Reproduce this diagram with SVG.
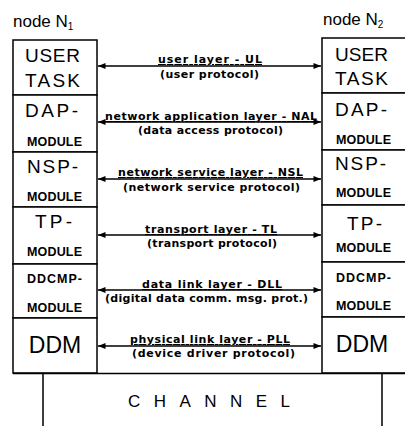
<svg xmlns="http://www.w3.org/2000/svg" width="405" height="426" viewBox="0 0 405 426">
<style>
.bx{fill:#fff;stroke:#000;stroke-width:1.5}
.big{font-family:"Liberation Sans",Arial,sans-serif;font-size:19px;fill:#000}
.ddm{font-family:"Liberation Sans",Arial,sans-serif;font-size:23px;fill:#000;text-anchor:middle}
.sm{font-family:"Liberation Sans",Arial,sans-serif;font-size:12.5px;font-weight:bold;fill:#000}
.lbl{font-family:"DejaVu Sans",Verdana,sans-serif;font-size:11px;font-weight:bold;fill:#000}
.ttl{font-family:"Liberation Sans",Arial,sans-serif;font-size:17px;fill:#000}
.ch{font-family:"Liberation Sans",Arial,sans-serif;font-size:17px;fill:#000}
.ln{stroke:#000;stroke-width:1.5;fill:none}
.ar{stroke:#000;stroke-width:1.3;fill:none;marker-start:url(#ah);marker-end:url(#ah)}
</style>
<defs>
<marker id="ah" viewBox="0 0 10 8" refX="10" refY="4" markerWidth="8" markerHeight="6" markerUnits="userSpaceOnUse" orient="auto-start-reverse">
<path d="M0,0 L10,4 L0,8 Z" fill="#000"/>
</marker>
</defs>
<rect width="405" height="426" fill="#fff"/>

<g id="title1"><text class="ttl" x="13" y="27">node N<tspan font-size="10" dy="3">1</tspan></text></g>
<g id="title2"><text class="ttl" x="323" y="25">node N<tspan font-size="10" dy="3">2</tspan></text></g>

<g id="n1-user"><rect class="bx" x="13" y="40" width="84" height="55"/>
<text class="big" x="25" y="62" textLength="55">USER</text><text class="big" x="25" y="87" textLength="55">TASK</text></g>
<g id="n1-dap"><rect class="bx" x="13" y="95" width="84" height="57"/>
<text class="big" x="25" y="117" textLength="53">DAP-</text><text class="sm" x="27" y="146" textLength="55">MODULE</text></g>
<g id="n1-nsp"><rect class="bx" x="13" y="152" width="84" height="55"/>
<text class="big" x="27" y="173" textLength="51">NSP-</text><text class="sm" x="27" y="201" textLength="55">MODULE</text></g>
<g id="n1-tp"><rect class="bx" x="13" y="207" width="84" height="57"/>
<text class="big" x="35" y="228" textLength="37">TP-</text><text class="sm" x="27" y="256" textLength="55">MODULE</text></g>
<g id="n1-ddcmp"><rect class="bx" x="13" y="264" width="84" height="54"/>
<text class="sm" x="27" y="283" textLength="55">DDCMP-</text><text class="sm" x="27" y="312" textLength="55">MODULE</text></g>
<g id="n1-ddm"><rect class="bx" x="13" y="318" width="84" height="55"/>
<text class="ddm" x="55" y="353">DDM</text></g>

<g id="n2-user"><rect class="bx" x="322" y="38" width="84" height="55"/>
<text class="big" x="335" y="61" textLength="53">USER</text><text class="big" x="335" y="85" textLength="53">TASK</text></g>
<g id="n2-dap"><rect class="bx" x="322" y="93" width="84" height="57"/>
<text class="big" x="335" y="116" textLength="52">DAP-</text><text class="sm" x="336" y="144" textLength="55">MODULE</text></g>
<g id="n2-nsp"><rect class="bx" x="322" y="150" width="84" height="55"/>
<text class="big" x="335" y="170" textLength="51">NSP-</text><text class="sm" x="336" y="197" textLength="55">MODULE</text></g>
<g id="n2-tp"><rect class="bx" x="322" y="205" width="84" height="57"/>
<text class="big" x="347" y="230" textLength="35">TP-</text><text class="sm" x="336" y="252" textLength="55">MODULE</text></g>
<g id="n2-ddcmp"><rect class="bx" x="322" y="262" width="84" height="55"/>
<text class="sm" x="336" y="282" textLength="55">DDCMP-</text><text class="sm" x="336" y="310" textLength="55">MODULE</text></g>
<g id="n2-ddm"><rect class="bx" x="322" y="317" width="84" height="56"/>
<text class="ddm" x="362" y="352">DDM</text></g>

<g id="channel">
<path class="ln" d="M13,373.5 H405 M43,373.5 V426 M382,373.5 V426"/>
<text class="ch" x="128" y="407" textLength="162">CHANNEL</text>
</g>

<g id="connectors">
<line class="ar" x1="98" y1="66" x2="321" y2="66"/>
<line class="ar" x1="98" y1="122" x2="321" y2="122"/>
<line class="ar" x1="98" y1="179" x2="321" y2="179"/>
<line class="ar" x1="98" y1="235" x2="321" y2="235"/>
<line class="ar" x1="98" y1="290" x2="321" y2="290"/>
<line class="ar" x1="98" y1="346" x2="321" y2="346"/>
</g>
<g id="labels">
<text class="lbl" x="158" y="63" textLength="104" text-decoration="underline">user layer - UL</text>
<text class="lbl" x="105" y="120" textLength="212" text-decoration="underline">network application layer - NAL</text>
<text class="lbl" x="118" y="176" textLength="185" text-decoration="underline">network service layer - NSL</text>
<text class="lbl" x="145" y="233" textLength="132" text-decoration="underline">transport layer - TL</text>
<text class="lbl" x="142" y="288" textLength="140" text-decoration="underline">data link layer - DLL</text>
<text class="lbl" x="130" y="343" textLength="160" text-decoration="underline">physical link layer - PLL</text>
</g>
<g id="protocols">
<text class="lbl" x="160" y="78" textLength="99">(user protocol)</text>
<text class="lbl" x="138" y="134" textLength="145">(data access protocol)</text>
<text class="lbl" x="123" y="191" textLength="177">(network service protocol)</text>
<text class="lbl" x="147" y="247" textLength="130">(transport protocol)</text>
<text class="lbl" x="105" y="302" textLength="203">(digital data comm. msg. prot.)</text>
<text class="lbl" x="132" y="357" textLength="163">(device driver protocol)</text>
</g>
</svg>
